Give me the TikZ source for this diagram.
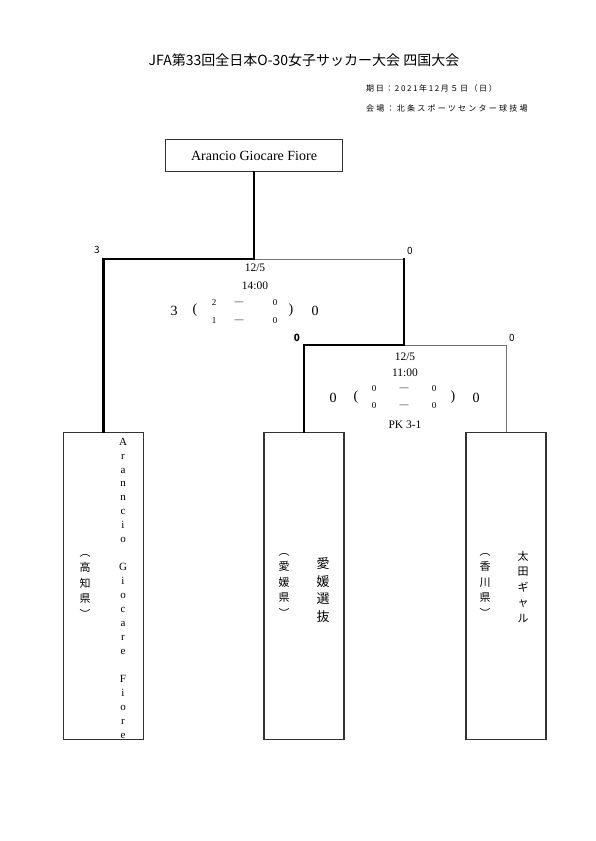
\documentclass[tikz,border=0pt]{standalone}
\usepackage{fontspec}
\setmainfont{Liberation Serif}
\newfontfamily\jp{Noto Sans CJK JP}
\usetikzlibrary{positioning, calc}

\begin{document}
\begin{tikzpicture}[x=1pt, y=-1pt,
    champ/.style={rectangle, draw=black!80, line width=1.5pt, minimum width=177pt, minimum height=32pt, inner sep=0pt, font=\fontsize{14}{16}\selectfont},
    team/.style={rectangle, draw=black!80, line width=1.5pt, minimum width=80pt, minimum height=307pt, inner sep=0pt},
    win/.style={line width=2.4pt, black, line cap=rect},
    lose/.style={line width=0.8pt, black!55},
    pts/.style={inner sep=0pt, font=\jp\fontsize{10}{11}\selectfont},
    info/.style={inner sep=0pt, font=\fontsize{11.5}{12}\selectfont},
    big/.style={inner sep=0pt, font=\fontsize{14}{15}\selectfont},
    paren/.style={inner sep=0pt, font=\fontsize{14}{15}\selectfont},
    small/.style={inner sep=0pt, font=\fontsize{9}{10}\selectfont},
    vname/.style={align=center, inner sep=0pt, font=\fontsize{11}{13.95}\selectfont},
    vjp/.style={align=center, inner sep=0pt, font=\jp\fontsize{11}{15.5}\selectfont}
]
    \useasboundingbox (0,0) rectangle (595,841);

    % Header
    \node[font=\jp\fontsize{14}{16}\selectfont] (title) at (304,60) {JFA第33回全日本O-30女子サッカー大会 四国大会};
    \node[anchor=west, inner sep=0pt, font=\jp\fontsize{8}{9}\selectfont\addfontfeatures{LetterSpace=20}] (date) at (366,88) {期日：2021年12月５日（日）};
    \node[anchor=west, inner sep=0pt, font=\jp\fontsize{8}{9}\selectfont\addfontfeatures{LetterSpace=28}] (venue) at (366,108) {会場：北条スポーツセンター球技場};

    % Champion
    \node[champ] (champ) at (254,155.5) {Arancio Giocare Fiore};

    % Teams
    \node[team] (t1) at (103.5,586) {};
    \node[team] (t2) at (304,586) {};
    \node[team] (t3) at (506,586) {};

    \node[vname] (n1) at (123,588) {A\\r\\a\\n\\n\\c\\i\\o\\\mbox{}\\G\\i\\o\\c\\a\\r\\e\\\mbox{}\\F\\i\\o\\r\\e};
    \node[vjp] (p1) at (85,586) {︵\\高\\知\\県\\︶};
    \node[vjp, font=\jp\fontsize{13}{17.5}\selectfont] (n2) at (323,590) {愛\\媛\\選\\抜};
    \node[vjp] (p2) at (284,585) {︵\\愛\\媛\\県\\︶};
    \node[vjp] (n3) at (523,587) {太\\田\\ギ\\ャ\\ル};
    \node[vjp] (p3) at (485,585) {︵\\香\\川\\県\\︶};

    % Bracket
    \coordinate (f) at (254,259);
    \coordinate (s) at (404,345);
    \draw[lose] (f) -- (f -| s);
    \draw[lose] (s) -| (t3.north);
    \draw[win] (champ.south) -- (f);
    \draw[win] (f) -| (t1.north);
    \draw[win] (f -| s) -- (s);
    \draw[win] (s) -| (t2.north);

    % Points
    \node[pts] (fp1) at (97,250) {3};
    \node[pts] (fp2) at (410,251) {0};
    \node[pts, font=\jp\bfseries\fontsize{10}{11}\selectfont] (sp1) at (297,338) {0};
    \node[pts] (sp2) at (512,338) {0};

    % Final
    \node[info] (fd) at (255,268) {12/5};
    \node[info] (ft) at (255,286) {14:00};
    \node[big] (fs1) at (174,311) {3};
    \node[paren] (fo) at (195,310) {(};
    \node[small] (fa1) at (214,303) {2};
    \node[small] (fa2) at (214,321) {1};
    \node[small] (fm1) at (239,303) {---};
    \node[small] (fm2) at (239,321) {---};
    \node[small] (fb1) at (275,303) {0};
    \node[small] (fb2) at (275,321) {0};
    \node[paren] (fc) at (291,310) {)};
    \node[big] (fs2) at (315,311) {0};

    % Semi-final
    \node[info] (sd) at (405,357) {12/5};
    \node[info] (st) at (405,373) {11:00};
    \node[big] (ss1) at (333,398) {0};
    \node[paren] (so) at (356,397) {(};
    \node[small] (sa1) at (374,389) {0};
    \node[small] (sa2) at (374,406) {0};
    \node[small] (sm1) at (404,389) {---};
    \node[small] (sm2) at (404,406) {---};
    \node[small] (sb1) at (434,389) {0};
    \node[small] (sb2) at (434,406) {0};
    \node[paren] (sc) at (453,397) {)};
    \node[big] (ss2) at (476,398) {0};
    \node[info] (pk) at (405,425) {PK 3-1};

\end{tikzpicture}
\end{document}
